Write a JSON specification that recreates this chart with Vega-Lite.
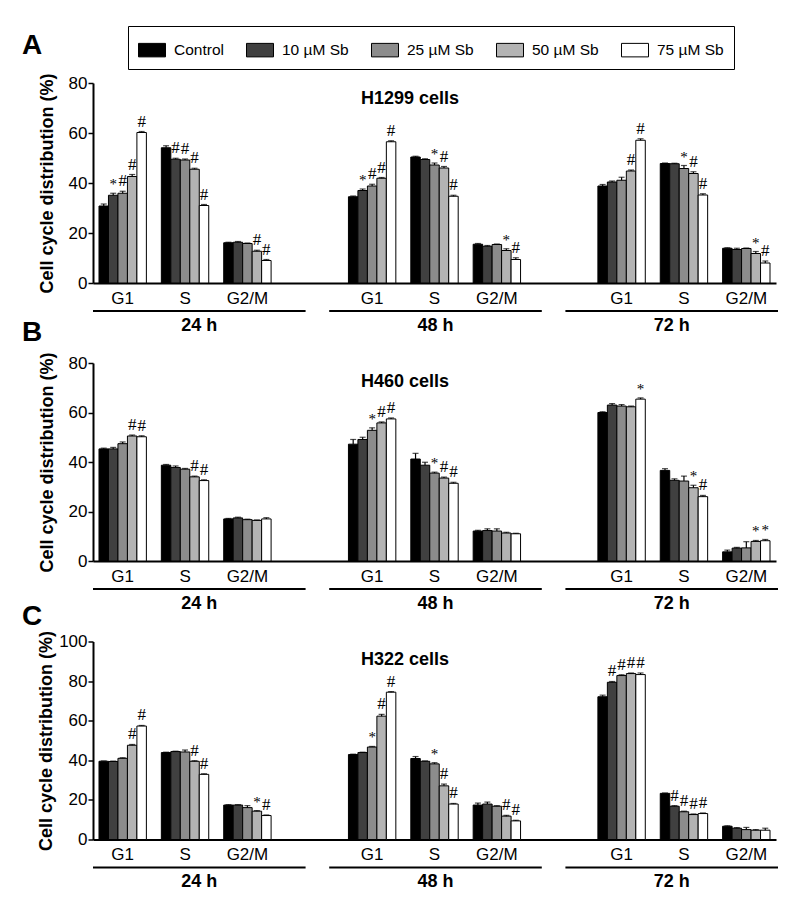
{
  "$schema": "https://vega.github.io/schema/vega-lite/v6.json",
  "padding": {"left": 22, "top": 25, "right": 10, "bottom": 5},
  "background": "white",
  "config": {
    "font": "Liberation Sans",
    "view": {"stroke": null},
    "axis": {"grid": false, "domainColor": "black", "tickColor": "black", "labelColor": "black", "titleColor": "black", "labelFont": "Liberation Sans", "titleFont": "Liberation Sans"},
    "title": {"color": "black", "font": "Liberation Sans"}
  },
  "datasets": {
    "d": [
      {"panel": "A", "group": "24 h|G1", "trt": "Control", "value": 30.8, "upper": 31.6},
      {"panel": "A", "group": "24 h|G1", "trt": "10 µM Sb", "value": 35.1, "upper": 35.9, "sig": "*"},
      {"panel": "A", "group": "24 h|G1", "trt": "25 µM Sb", "value": 35.9, "upper": 36.7, "sig": "#"},
      {"panel": "A", "group": "24 h|G1", "trt": "50 µM Sb", "value": 42.6, "upper": 43.4, "sig": "#"},
      {"panel": "A", "group": "24 h|G1", "trt": "75 µM Sb", "value": 60.2, "upper": 60.6, "sig": "#"},
      {"panel": "A", "group": "24 h|S", "trt": "Control", "value": 54.1, "upper": 54.9},
      {"panel": "A", "group": "24 h|S", "trt": "10 µM Sb", "value": 49.5, "upper": 49.9, "sig": "#"},
      {"panel": "A", "group": "24 h|S", "trt": "25 µM Sb", "value": 49.2, "upper": 49.6, "sig": "#"},
      {"panel": "A", "group": "24 h|S", "trt": "50 µM Sb", "value": 45.5, "upper": 45.9, "sig": "#"},
      {"panel": "A", "group": "24 h|S", "trt": "75 µM Sb", "value": 31.0, "upper": 31.4, "sig": "#"},
      {"panel": "A", "group": "24 h|G2/M", "trt": "Control", "value": 16.1, "upper": 16.3},
      {"panel": "A", "group": "24 h|G2/M", "trt": "10 µM Sb", "value": 16.3, "upper": 16.6},
      {"panel": "A", "group": "24 h|G2/M", "trt": "25 µM Sb", "value": 15.8, "upper": 16.0},
      {"panel": "A", "group": "24 h|G2/M", "trt": "50 µM Sb", "value": 12.7, "upper": 13.1, "sig": "#"},
      {"panel": "A", "group": "24 h|G2/M", "trt": "75 µM Sb", "value": 9.0, "upper": 9.4, "sig": "#"},
      {"panel": "A", "group": "48 h|G1", "trt": "Control", "value": 34.5, "upper": 34.8},
      {"panel": "A", "group": "48 h|G1", "trt": "10 µM Sb", "value": 37.0, "upper": 37.6, "sig": "*"},
      {"panel": "A", "group": "48 h|G1", "trt": "25 µM Sb", "value": 38.8, "upper": 39.5, "sig": "#"},
      {"panel": "A", "group": "48 h|G1", "trt": "50 µM Sb", "value": 41.9, "upper": 42.2, "sig": "#"},
      {"panel": "A", "group": "48 h|G1", "trt": "75 µM Sb", "value": 56.5, "upper": 56.9, "sig": "#"},
      {"panel": "A", "group": "48 h|S", "trt": "Control", "value": 50.4, "upper": 50.7},
      {"panel": "A", "group": "48 h|S", "trt": "10 µM Sb", "value": 49.4, "upper": 49.7},
      {"panel": "A", "group": "48 h|S", "trt": "25 µM Sb", "value": 47.2, "upper": 48.0, "sig": "*"},
      {"panel": "A", "group": "48 h|S", "trt": "50 µM Sb", "value": 46.0, "upper": 46.6, "sig": "#"},
      {"panel": "A", "group": "48 h|S", "trt": "75 µM Sb", "value": 34.7, "upper": 35.1, "sig": "#"},
      {"panel": "A", "group": "48 h|G2/M", "trt": "Control", "value": 15.5, "upper": 15.8},
      {"panel": "A", "group": "48 h|G2/M", "trt": "10 µM Sb", "value": 14.7, "upper": 15.0},
      {"panel": "A", "group": "48 h|G2/M", "trt": "25 µM Sb", "value": 15.4, "upper": 15.6},
      {"panel": "A", "group": "48 h|G2/M", "trt": "50 µM Sb", "value": 13.0, "upper": 13.7, "sig": "*"},
      {"panel": "A", "group": "48 h|G2/M", "trt": "75 µM Sb", "value": 9.4, "upper": 10.1, "sig": "#"},
      {"panel": "A", "group": "72 h|G1", "trt": "Control", "value": 38.8, "upper": 39.4},
      {"panel": "A", "group": "72 h|G1", "trt": "10 µM Sb", "value": 40.4, "upper": 40.8},
      {"panel": "A", "group": "72 h|G1", "trt": "25 µM Sb", "value": 41.1, "upper": 42.3},
      {"panel": "A", "group": "72 h|G1", "trt": "50 µM Sb", "value": 44.8, "upper": 45.2, "sig": "#"},
      {"panel": "A", "group": "72 h|G1", "trt": "75 µM Sb", "value": 57.1, "upper": 57.7, "sig": "#"},
      {"panel": "A", "group": "72 h|S", "trt": "Control", "value": 47.8, "upper": 48.0},
      {"panel": "A", "group": "72 h|S", "trt": "10 µM Sb", "value": 47.7, "upper": 47.9},
      {"panel": "A", "group": "72 h|S", "trt": "25 µM Sb", "value": 45.8, "upper": 47.0, "sig": "*"},
      {"panel": "A", "group": "72 h|S", "trt": "50 µM Sb", "value": 43.8, "upper": 44.5, "sig": "#"},
      {"panel": "A", "group": "72 h|S", "trt": "75 µM Sb", "value": 35.2, "upper": 35.7, "sig": "#"},
      {"panel": "A", "group": "72 h|G2/M", "trt": "Control", "value": 13.9, "upper": 14.1},
      {"panel": "A", "group": "72 h|G2/M", "trt": "10 µM Sb", "value": 13.4, "upper": 13.9},
      {"panel": "A", "group": "72 h|G2/M", "trt": "25 µM Sb", "value": 13.8, "upper": 14.0},
      {"panel": "A", "group": "72 h|G2/M", "trt": "50 µM Sb", "value": 11.8, "upper": 12.6, "sig": "*"},
      {"panel": "A", "group": "72 h|G2/M", "trt": "75 µM Sb", "value": 8.0, "upper": 8.8, "sig": "#"},

      {"panel": "B", "group": "24 h|G1", "trt": "Control", "value": 45.3, "upper": 45.6},
      {"panel": "B", "group": "24 h|G1", "trt": "10 µM Sb", "value": 45.3, "upper": 45.9},
      {"panel": "B", "group": "24 h|G1", "trt": "25 µM Sb", "value": 47.4, "upper": 48.1},
      {"panel": "B", "group": "24 h|G1", "trt": "50 µM Sb", "value": 50.5, "upper": 50.9, "sig": "#"},
      {"panel": "B", "group": "24 h|G1", "trt": "75 µM Sb", "value": 50.2, "upper": 50.6, "sig": "#"},
      {"panel": "B", "group": "24 h|S", "trt": "Control", "value": 38.7, "upper": 39.0},
      {"panel": "B", "group": "24 h|S", "trt": "10 µM Sb", "value": 37.8, "upper": 38.4},
      {"panel": "B", "group": "24 h|S", "trt": "25 µM Sb", "value": 37.1, "upper": 37.4},
      {"panel": "B", "group": "24 h|S", "trt": "50 µM Sb", "value": 34.0, "upper": 34.3, "sig": "#"},
      {"panel": "B", "group": "24 h|S", "trt": "75 µM Sb", "value": 32.5, "upper": 32.8, "sig": "#"},
      {"panel": "B", "group": "24 h|G2/M", "trt": "Control", "value": 17.0, "upper": 17.2},
      {"panel": "B", "group": "24 h|G2/M", "trt": "10 µM Sb", "value": 17.4, "upper": 17.7},
      {"panel": "B", "group": "24 h|G2/M", "trt": "25 µM Sb", "value": 16.7, "upper": 16.9},
      {"panel": "B", "group": "24 h|G2/M", "trt": "50 µM Sb", "value": 16.4, "upper": 16.6},
      {"panel": "B", "group": "24 h|G2/M", "trt": "75 µM Sb", "value": 17.0, "upper": 17.5},
      {"panel": "B", "group": "48 h|G1", "trt": "Control", "value": 47.2, "upper": 49.1},
      {"panel": "B", "group": "48 h|G1", "trt": "10 µM Sb", "value": 49.1, "upper": 50.0},
      {"panel": "B", "group": "48 h|G1", "trt": "25 µM Sb", "value": 52.8, "upper": 53.8, "sig": "*"},
      {"panel": "B", "group": "48 h|G1", "trt": "50 µM Sb", "value": 55.8, "upper": 56.2, "sig": "#"},
      {"panel": "B", "group": "48 h|G1", "trt": "75 µM Sb", "value": 57.4, "upper": 57.8, "sig": "#"},
      {"panel": "B", "group": "48 h|S", "trt": "Control", "value": 41.2, "upper": 43.5},
      {"panel": "B", "group": "48 h|S", "trt": "10 µM Sb", "value": 38.7, "upper": 39.9},
      {"panel": "B", "group": "48 h|S", "trt": "25 µM Sb", "value": 35.5, "upper": 35.9, "sig": "*"},
      {"panel": "B", "group": "48 h|S", "trt": "50 µM Sb", "value": 33.5, "upper": 33.9, "sig": "#"},
      {"panel": "B", "group": "48 h|S", "trt": "75 µM Sb", "value": 31.4, "upper": 31.8, "sig": "#"},
      {"panel": "B", "group": "48 h|G2/M", "trt": "Control", "value": 12.1, "upper": 12.4},
      {"panel": "B", "group": "48 h|G2/M", "trt": "10 µM Sb", "value": 12.3, "upper": 13.0},
      {"panel": "B", "group": "48 h|G2/M", "trt": "25 µM Sb", "value": 12.1, "upper": 13.0},
      {"panel": "B", "group": "48 h|G2/M", "trt": "50 µM Sb", "value": 11.3, "upper": 11.6},
      {"panel": "B", "group": "48 h|G2/M", "trt": "75 µM Sb", "value": 11.0, "upper": 11.2},
      {"panel": "B", "group": "72 h|G1", "trt": "Control", "value": 60.0, "upper": 60.3},
      {"panel": "B", "group": "72 h|G1", "trt": "10 µM Sb", "value": 63.0, "upper": 63.6},
      {"panel": "B", "group": "72 h|G1", "trt": "25 µM Sb", "value": 62.6, "upper": 63.2},
      {"panel": "B", "group": "72 h|G1", "trt": "50 µM Sb", "value": 62.3, "upper": 62.6},
      {"panel": "B", "group": "72 h|G1", "trt": "75 µM Sb", "value": 65.4, "upper": 65.9, "sig": "*"},
      {"panel": "B", "group": "72 h|S", "trt": "Control", "value": 36.6, "upper": 37.3},
      {"panel": "B", "group": "72 h|S", "trt": "10 µM Sb", "value": 32.6, "upper": 33.2},
      {"panel": "B", "group": "72 h|S", "trt": "25 µM Sb", "value": 32.3, "upper": 34.3},
      {"panel": "B", "group": "72 h|S", "trt": "50 µM Sb", "value": 29.6, "upper": 30.6, "sig": "*"},
      {"panel": "B", "group": "72 h|S", "trt": "75 µM Sb", "value": 26.0, "upper": 26.5, "sig": "#"},
      {"panel": "B", "group": "72 h|G2/M", "trt": "Control", "value": 3.7, "upper": 4.4},
      {"panel": "B", "group": "72 h|G2/M", "trt": "10 µM Sb", "value": 5.2, "upper": 5.5},
      {"panel": "B", "group": "72 h|G2/M", "trt": "25 µM Sb", "value": 5.3, "upper": 7.8},
      {"panel": "B", "group": "72 h|G2/M", "trt": "50 µM Sb", "value": 7.9, "upper": 8.3, "sig": "*"},
      {"panel": "B", "group": "72 h|G2/M", "trt": "75 µM Sb", "value": 8.2, "upper": 8.7, "sig": "*"},

      {"panel": "C", "group": "24 h|G1", "trt": "Control", "value": 39.5, "upper": 39.7},
      {"panel": "C", "group": "24 h|G1", "trt": "10 µM Sb", "value": 39.4, "upper": 39.6},
      {"panel": "C", "group": "24 h|G1", "trt": "25 µM Sb", "value": 41.0, "upper": 41.3},
      {"panel": "C", "group": "24 h|G1", "trt": "50 µM Sb", "value": 47.6, "upper": 48.0, "sig": "#"},
      {"panel": "C", "group": "24 h|G1", "trt": "75 µM Sb", "value": 57.3, "upper": 57.6, "sig": "#"},
      {"panel": "C", "group": "24 h|S", "trt": "Control", "value": 43.9, "upper": 44.1},
      {"panel": "C", "group": "24 h|S", "trt": "10 µM Sb", "value": 44.4, "upper": 44.6},
      {"panel": "C", "group": "24 h|S", "trt": "25 µM Sb", "value": 44.2, "upper": 45.2},
      {"panel": "C", "group": "24 h|S", "trt": "50 µM Sb", "value": 39.5, "upper": 39.8, "sig": "#"},
      {"panel": "C", "group": "24 h|S", "trt": "75 µM Sb", "value": 32.9, "upper": 33.2, "sig": "#"},
      {"panel": "C", "group": "24 h|G2/M", "trt": "Control", "value": 17.4, "upper": 17.6},
      {"panel": "C", "group": "24 h|G2/M", "trt": "10 µM Sb", "value": 17.4, "upper": 17.6},
      {"panel": "C", "group": "24 h|G2/M", "trt": "25 µM Sb", "value": 16.1, "upper": 17.1},
      {"panel": "C", "group": "24 h|G2/M", "trt": "50 µM Sb", "value": 14.3, "upper": 14.6, "sig": "*"},
      {"panel": "C", "group": "24 h|G2/M", "trt": "75 µM Sb", "value": 12.1, "upper": 12.4, "sig": "#"},
      {"panel": "C", "group": "48 h|G1", "trt": "Control", "value": 42.9, "upper": 43.1},
      {"panel": "C", "group": "48 h|G1", "trt": "10 µM Sb", "value": 43.9, "upper": 44.1},
      {"panel": "C", "group": "48 h|G1", "trt": "25 µM Sb", "value": 46.7, "upper": 47.0, "sig": "*"},
      {"panel": "C", "group": "48 h|G1", "trt": "50 µM Sb", "value": 62.3, "upper": 63.2, "sig": "#"},
      {"panel": "C", "group": "48 h|G1", "trt": "75 µM Sb", "value": 74.4, "upper": 74.7, "sig": "#"},
      {"panel": "C", "group": "48 h|S", "trt": "Control", "value": 40.9, "upper": 41.9},
      {"panel": "C", "group": "48 h|S", "trt": "10 µM Sb", "value": 39.5, "upper": 39.7},
      {"panel": "C", "group": "48 h|S", "trt": "25 µM Sb", "value": 38.2, "upper": 38.8, "sig": "*"},
      {"panel": "C", "group": "48 h|S", "trt": "50 µM Sb", "value": 27.1, "upper": 28.0, "sig": "#"},
      {"panel": "C", "group": "48 h|S", "trt": "75 µM Sb", "value": 17.9, "upper": 18.2, "sig": "#"},
      {"panel": "C", "group": "48 h|G2/M", "trt": "Control", "value": 17.4, "upper": 18.4},
      {"panel": "C", "group": "48 h|G2/M", "trt": "10 µM Sb", "value": 17.9, "upper": 18.9},
      {"panel": "C", "group": "48 h|G2/M", "trt": "25 µM Sb", "value": 16.8, "upper": 17.1},
      {"panel": "C", "group": "48 h|G2/M", "trt": "50 µM Sb", "value": 11.8, "upper": 12.2, "sig": "#"},
      {"panel": "C", "group": "48 h|G2/M", "trt": "75 µM Sb", "value": 9.4, "upper": 9.7, "sig": "#"},
      {"panel": "C", "group": "72 h|G1", "trt": "Control", "value": 72.1, "upper": 72.9},
      {"panel": "C", "group": "72 h|G1", "trt": "10 µM Sb", "value": 79.4, "upper": 79.8, "sig": "#"},
      {"panel": "C", "group": "72 h|G1", "trt": "25 µM Sb", "value": 82.8, "upper": 83.2, "sig": "#"},
      {"panel": "C", "group": "72 h|G1", "trt": "50 µM Sb", "value": 83.8, "upper": 84.1, "sig": "#"},
      {"panel": "C", "group": "72 h|G1", "trt": "75 µM Sb", "value": 83.3, "upper": 84.1, "sig": "#"},
      {"panel": "C", "group": "72 h|S", "trt": "Control", "value": 23.3, "upper": 23.5},
      {"panel": "C", "group": "72 h|S", "trt": "10 µM Sb", "value": 16.8, "upper": 17.1, "sig": "#"},
      {"panel": "C", "group": "72 h|S", "trt": "25 µM Sb", "value": 14.0, "upper": 14.3, "sig": "#"},
      {"panel": "C", "group": "72 h|S", "trt": "50 µM Sb", "value": 12.6, "upper": 12.9, "sig": "#"},
      {"panel": "C", "group": "72 h|S", "trt": "75 µM Sb", "value": 13.1, "upper": 13.4, "sig": "#"},
      {"panel": "C", "group": "72 h|G2/M", "trt": "Control", "value": 6.7, "upper": 6.9},
      {"panel": "C", "group": "72 h|G2/M", "trt": "10 µM Sb", "value": 5.7, "upper": 6.0},
      {"panel": "C", "group": "72 h|G2/M", "trt": "25 µM Sb", "value": 5.0, "upper": 6.1},
      {"panel": "C", "group": "72 h|G2/M", "trt": "50 µM Sb", "value": 4.7, "upper": 5.0},
      {"panel": "C", "group": "72 h|G2/M", "trt": "75 µM Sb", "value": 4.7, "upper": 5.7}
    ],
    "times": [{"time": "24 h"}, {"time": "48 h"}, {"time": "72 h"}]
  },
  "resolve": {"scale": {"fill": "shared", "size": "shared"}, "legend": {"fill": "shared"}},
  "spacing": 4,
  "vconcat": [
    {
      "title": {"text": "A", "anchor": "start", "dx": 0, "offset": 13, "fontSize": 28, "fontWeight": "bold"},
      "spacing": 4,
      "resolve": {"scale": {"fill": "shared", "size": "shared"}, "legend": {"fill": "shared"}},
      "vconcat": [
        {
          "width": 683, "height": 200,
          "data": {"name": "d"},
          "title": {"text": "H1299  cells", "frame": "group", "anchor": "start", "dx": 268, "offset": -35, "fontSize": 18, "fontWeight": "bold"},
          "transform": [{"filter": "datum.panel === 'A'"}],
          "encoding": {
            "x": {"field": "group", "type": "nominal", "title": null, "scale": {"domain": ["24 h|G1", "24 h|S", "24 h|G2/M", "gap1", "48 h|G1", "48 h|S", "48 h|G2/M", "gap2", "72 h|G1", "72 h|S", "72 h|G2/M"], "paddingInner": 0.24, "paddingOuter": 0.096},
                  "axis": {"labelExpr": "split(datum.value, '|')[1] || ''", "ticks": false, "tickSize": 0, "labelAngle": 0, "labelFontSize": 17, "labelPadding": 7, "domainWidth": 2, "labelOverlap": false}},
            "xOffset": {"field": "trt", "type": "nominal", "scale": {"domain": ["Control", "10 µM Sb", "25 µM Sb", "50 µM Sb", "75 µM Sb"], "paddingInner": 0, "paddingOuter": 0}}
          },
          "layer": [
            {"mark": {"type": "bar", "stroke": "black", "strokeWidth": 1},
             "encoding": {
               "y": {"field": "value", "type": "quantitative", "stack": null, "title": "Cell cycle distribution (%)", "scale": {"domain": [0, 80]},
                     "axis": {"values": [0, 20, 40, 60, 80], "labelOverlap": false, "tickSize": 5, "tickWidth": 1.5, "domainWidth": 2, "labelFontSize": 17, "labelPadding": 1, "titleFontSize": 18, "titleFontWeight": "bold", "titlePadding": 12}},
               "fill": {"field": "trt", "type": "nominal", "scale": {"domain": ["Control", "10 µM Sb", "25 µM Sb", "50 µM Sb", "75 µM Sb"], "range": ["#000000", "#404040", "#8c8c8c", "#b3b3b3", "#ffffff"]},
                        "legend": {"title": null, "orient": "none", "legendX": 35, "legendY": -57, "direction": "horizontal", "symbolType": "M-1,-0.5H1V0.5H-1Z", "symbolSize": 729, "symbolStrokeColor": "black", "symbolStrokeWidth": 1, "symbolOpacity": 1, "labelFontSize": 15.5, "labelColor": "black", "labelOffset": 8, "columnPadding": 20, "padding": 10, "strokeColor": "black"}}
             }},
            {"mark": {"type": "rule", "color": "black", "strokeWidth": 1.2},
             "encoding": {"y": {"field": "value", "type": "quantitative", "title": "Cell cycle distribution (%)", "scale": {"domain": [0, 80]}}, "y2": {"field": "upper"}}},
            {"mark": {"type": "tick", "color": "black", "thickness": 1.2, "size": 6},
             "encoding": {"y": {"field": "upper", "type": "quantitative", "title": "Cell cycle distribution (%)", "scale": {"domain": [0, 80]}}}},
            {"transform": [{"filter": "isValid(datum.sig)"}],
             "mark": {"type": "text", "baseline": "bottom", "dy": -1, "font": "Liberation Serif", "color": "black"},
             "encoding": {"y": {"field": "upper", "type": "quantitative", "title": "Cell cycle distribution (%)", "scale": {"domain": [0, 80]}}, "text": {"field": "sig"},
                          "size": {"field": "sig", "type": "ordinal", "scale": {"domain": ["#", "*"], "range": [17, 15]}, "legend": null}}}
          ]
        },
        {
          "width": 685, "height": 2,
          "data": {"name": "times"},
          "title": {"text": "B", "orient": "bottom", "frame": "group", "anchor": "start", "dx": -71, "offset": -15, "fontSize": 28, "fontWeight": "bold"},
          "mark": {"type": "rect", "color": "black"},
          "encoding": {"x": {"field": "time", "type": "nominal", "title": null, "scale": {"paddingInner": 0.1, "paddingOuter": 0},
                             "axis": {"domain": false, "ticks": false, "labelAngle": 0, "labelFontSize": 18, "labelFontWeight": "bold", "labelPadding": 4}}}
        }
      ]
    },
    {
      "spacing": -1.5,
      "resolve": {"scale": {"fill": "shared", "size": "shared"}, "legend": {"fill": "shared"}},
      "vconcat": [
        {
          "spacing": 4,
          "resolve": {"scale": {"fill": "shared", "size": "shared"}, "legend": {"fill": "shared"}},
          "vconcat": [
            {
              "width": 683, "height": 198,
              "data": {"name": "d"},
              "title": {"text": "H460  cells", "frame": "group", "anchor": "start", "dx": 268, "offset": -39, "fontSize": 18, "fontWeight": "bold"},
              "transform": [{"filter": "datum.panel === 'B'"}],
              "encoding": {
                "x": {"field": "group", "type": "nominal", "title": null, "scale": {"domain": ["24 h|G1", "24 h|S", "24 h|G2/M", "gap1", "48 h|G1", "48 h|S", "48 h|G2/M", "gap2", "72 h|G1", "72 h|S", "72 h|G2/M"], "paddingInner": 0.24, "paddingOuter": 0.096},
                      "axis": {"labelExpr": "split(datum.value, '|')[1] || ''", "ticks": false, "tickSize": 0, "labelAngle": 0, "labelFontSize": 17, "labelPadding": 7, "domainWidth": 2, "labelOverlap": false}},
                "xOffset": {"field": "trt", "type": "nominal", "scale": {"domain": ["Control", "10 µM Sb", "25 µM Sb", "50 µM Sb", "75 µM Sb"], "paddingInner": 0, "paddingOuter": 0}}
              },
              "layer": [
                {"mark": {"type": "bar", "stroke": "black", "strokeWidth": 1},
                 "encoding": {
                   "y": {"field": "value", "type": "quantitative", "stack": null, "title": "Cell cycle distribution (%)", "scale": {"domain": [0, 80]},
                         "axis": {"values": [0, 20, 40, 60, 80], "labelOverlap": false, "tickSize": 5, "tickWidth": 1.5, "domainWidth": 2, "labelFontSize": 17, "labelPadding": 1, "titleFontSize": 18, "titleFontWeight": "bold", "titlePadding": 12}},
                   "fill": {"field": "trt", "type": "nominal"}
                 }},
                {"mark": {"type": "rule", "color": "black", "strokeWidth": 1.2},
                 "encoding": {"y": {"field": "value", "type": "quantitative", "title": "Cell cycle distribution (%)", "scale": {"domain": [0, 80]}}, "y2": {"field": "upper"}}},
                {"mark": {"type": "tick", "color": "black", "thickness": 1.2, "size": 6},
                 "encoding": {"y": {"field": "upper", "type": "quantitative", "title": "Cell cycle distribution (%)", "scale": {"domain": [0, 80]}}}},
                {"transform": [{"filter": "isValid(datum.sig)"}],
                 "mark": {"type": "text", "baseline": "bottom", "dy": -1, "font": "Liberation Serif", "color": "black"},
                 "encoding": {"y": {"field": "upper", "type": "quantitative", "title": "Cell cycle distribution (%)", "scale": {"domain": [0, 80]}}, "text": {"field": "sig"},
                              "size": {"field": "sig", "type": "ordinal", "legend": null}}}
              ]
            },
            {
              "width": 685, "height": 2,
              "data": {"name": "times"},
              "title": {"text": "C", "orient": "bottom", "frame": "group", "anchor": "start", "dx": -71, "offset": -9, "fontSize": 28, "fontWeight": "bold"},
              "mark": {"type": "rect", "color": "black"},
              "encoding": {"x": {"field": "time", "type": "nominal", "title": null, "scale": {"paddingInner": 0.1, "paddingOuter": 0},
                                 "axis": {"domain": false, "ticks": false, "labelAngle": 0, "labelFontSize": 18, "labelFontWeight": "bold", "labelPadding": 4}}}
            }
          ]
        },
        {
          "spacing": 4,
          "resolve": {"scale": {"fill": "shared", "size": "shared"}, "legend": {"fill": "shared"}},
          "vconcat": [
            {
              "width": 683, "height": 198,
              "data": {"name": "d"},
              "title": {"text": "H322  cells", "frame": "group", "anchor": "start", "dx": 268, "offset": -39, "fontSize": 18, "fontWeight": "bold"},
              "transform": [{"filter": "datum.panel === 'C'"}],
              "encoding": {
                "x": {"field": "group", "type": "nominal", "title": null, "scale": {"domain": ["24 h|G1", "24 h|S", "24 h|G2/M", "gap1", "48 h|G1", "48 h|S", "48 h|G2/M", "gap2", "72 h|G1", "72 h|S", "72 h|G2/M"], "paddingInner": 0.24, "paddingOuter": 0.096},
                      "axis": {"labelExpr": "split(datum.value, '|')[1] || ''", "ticks": false, "tickSize": 0, "labelAngle": 0, "labelFontSize": 17, "labelPadding": 7, "domainWidth": 2, "labelOverlap": false}},
                "xOffset": {"field": "trt", "type": "nominal", "scale": {"domain": ["Control", "10 µM Sb", "25 µM Sb", "50 µM Sb", "75 µM Sb"], "paddingInner": 0, "paddingOuter": 0}}
              },
              "layer": [
                {"mark": {"type": "bar", "stroke": "black", "strokeWidth": 1},
                 "encoding": {
                   "y": {"field": "value", "type": "quantitative", "stack": null, "title": "Cell cycle distribution (%)", "scale": {"domain": [0, 100], "nice": false},
                         "axis": {"tickCount": 5, "labelOverlap": false, "tickSize": 5, "tickWidth": 1.5, "domainWidth": 2, "labelFontSize": 17, "labelPadding": 1, "titleFontSize": 18, "titleFontWeight": "bold", "titlePadding": 3}},
                   "fill": {"field": "trt", "type": "nominal"}
                 }},
                {"mark": {"type": "rule", "color": "black", "strokeWidth": 1.2},
                 "encoding": {"y": {"field": "value", "type": "quantitative", "title": "Cell cycle distribution (%)", "scale": {"domain": [0, 100], "nice": false}}, "y2": {"field": "upper"}}},
                {"mark": {"type": "tick", "color": "black", "thickness": 1.2, "size": 6},
                 "encoding": {"y": {"field": "upper", "type": "quantitative", "title": "Cell cycle distribution (%)", "scale": {"domain": [0, 100], "nice": false}}}},
                {"transform": [{"filter": "isValid(datum.sig)"}],
                 "mark": {"type": "text", "baseline": "bottom", "dy": -1, "font": "Liberation Serif", "color": "black"},
                 "encoding": {"y": {"field": "upper", "type": "quantitative", "title": "Cell cycle distribution (%)", "scale": {"domain": [0, 100], "nice": false}}, "text": {"field": "sig"},
                              "size": {"field": "sig", "type": "ordinal", "legend": null}}}
              ]
            },
            {
              "width": 685, "height": 2,
              "data": {"name": "times"},
              "mark": {"type": "rect", "color": "black"},
              "encoding": {"x": {"field": "time", "type": "nominal", "title": null, "scale": {"paddingInner": 0.1, "paddingOuter": 0},
                                 "axis": {"domain": false, "ticks": false, "labelAngle": 0, "labelFontSize": 18, "labelFontWeight": "bold", "labelPadding": 4}}}
            }
          ]
        }
      ]
    }
  ]
}
